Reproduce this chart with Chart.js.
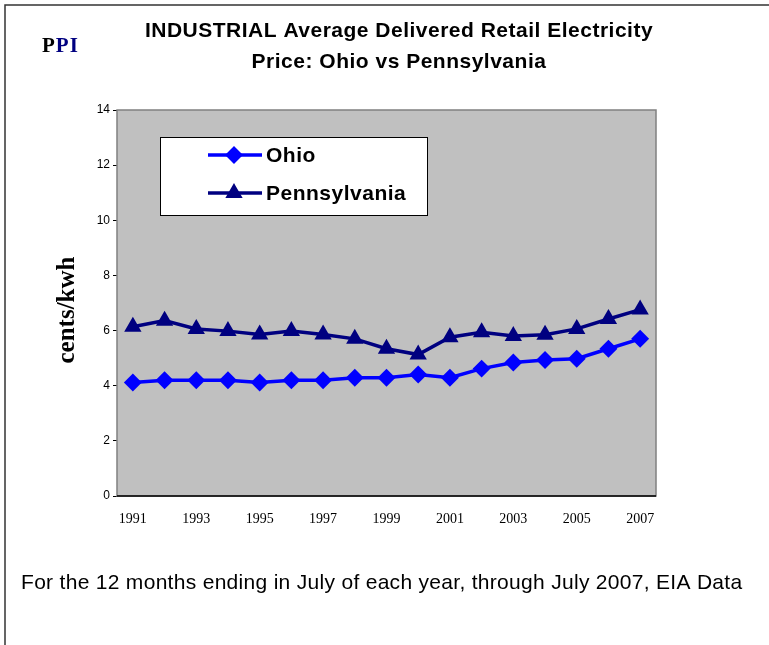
<!DOCTYPE html>
<html>
<head>
<meta charset="utf-8">
<script src="https://cdn.jsdelivr.net/npm/chart.js@4"></script>
<style>
  html, body { margin: 0; padding: 0; background: #fff; }
  #wrap { width: 769px; height: 645px; position: relative; }
</style>
</head>
<body>
<div id="wrap"><canvas id="priceChart" width="769" height="645"></canvas></div>
<script>
// Años y precios (centavos/kWh)
const years = ['1991', '1992', '1993', '1994', '1995', '1996', '1997', '1998', '1999',
               '2000', '2001', '2002', '2003', '2004', '2005', '2006', '2007'];
const ohio = [4.12, 4.2, 4.2, 4.2, 4.12, 4.2, 4.2, 4.29, 4.29, 4.41, 4.29, 4.62, 4.84, 4.93, 4.98, 5.34, 5.7];
const pennsylvania = [6.14, 6.36, 6.06, 5.98, 5.86, 5.98, 5.86, 5.7, 5.34, 5.13, 5.76, 5.94, 5.8, 5.85, 6.06, 6.42, 6.76];
const yTicks = [0, 2, 4, 6, 8, 10, 12, 14];

const titleLines = ['INDUSTRIAL Average Delivered Retail Electricity', 'Price: Ohio vs Pennsylvania'];
const footnote = 'For the 12 months ending in July of each year, through July 2007, EIA Data';

// Fondo gris del área de trazado, marco, títulos, leyenda y nota
const decorations = {
    id: 'decorations',
    beforeDatasetsDraw(chart) {
        const { ctx, chartArea: a } = chart;
        ctx.save();
        ctx.fillStyle = '#c0c0c0';
        ctx.fillRect(a.left, a.top, a.right - a.left, a.bottom - a.top);
        ctx.strokeStyle = '#808080';
        ctx.lineWidth = 1.5;
        ctx.strokeRect(a.left, a.top, a.right - a.left, a.bottom - a.top);
        ctx.strokeStyle = '#000';
        ctx.beginPath();
        ctx.moveTo(a.left, a.bottom);
        ctx.lineTo(a.right, a.bottom);
        ctx.stroke();
        ctx.restore();
    },
    afterDraw(chart) {
        const { ctx } = chart;
        ctx.save();

        // marco exterior
        ctx.strokeStyle = '#333';
        ctx.lineWidth = 1.5;
        ctx.beginPath();
        ctx.moveTo(769, 5);
        ctx.lineTo(5, 5);
        ctx.lineTo(5, 645);
        ctx.stroke();

        // PPI
        ctx.font = 'bold 21px "Liberation Serif", "Times New Roman", serif';
        ctx.letterSpacing = '1px';
        ctx.textBaseline = 'middle';
        ctx.textAlign = 'left';
        ctx.fillStyle = '#000';
        ctx.fillText('P', 42, 47);
        ctx.fillStyle = '#000080';
        ctx.fillText('PI', 42 + ctx.measureText('P').width, 47);

        // título
        ctx.fillStyle = '#000';
        ctx.textAlign = 'center';
        ctx.letterSpacing = '0.5px';
        ctx.font = 'bold 21px "Liberation Sans", Arial, sans-serif';
        ctx.fillText(titleLines[0], 399, 31);
        ctx.fillText(titleLines[1], 399, 62);

        // título eje Y
        ctx.save();
        ctx.translate(68, 310);
        ctx.rotate(-Math.PI / 2);
        ctx.letterSpacing = '0px';
        ctx.font = 'bold 25px "Liberation Serif", "Times New Roman", serif';
        ctx.fillText('cents/kwh', 0, 0);
        ctx.restore();

        // leyenda
        ctx.fillStyle = '#fff';
        ctx.fillRect(160, 137, 267, 78);
        ctx.strokeStyle = '#000';
        ctx.lineWidth = 1;
        ctx.strokeRect(160.5, 137.5, 267, 78);
        chart.data.datasets.forEach((ds, i) => {
            const y = 155 + i * 38;
            ctx.strokeStyle = ds.borderColor;
            ctx.lineWidth = ds.borderWidth;
            ctx.beginPath();
            ctx.moveTo(208, y);
            ctx.lineTo(262, y);
            ctx.stroke();
            Chart.helpers.drawPoint(ctx, {
                pointStyle: ds.pointStyle,
                radius: ds.pointRadius,
                borderWidth: 1
            }, 234, y);
            ctx.fillStyle = ds.pointBackgroundColor;
            ctx.fill();
            ctx.fillStyle = '#000';
            ctx.textAlign = 'left';
            ctx.letterSpacing = '0.5px';
            ctx.font = 'bold 21px "Liberation Sans", Arial, sans-serif';
            ctx.fillText(ds.label, 266, y + 1);
        });

        // nota al pie
        ctx.fillStyle = '#000';
        ctx.textAlign = 'left';
        ctx.letterSpacing = '0.3px';
        ctx.font = '21px "Liberation Sans", Arial, sans-serif';
        ctx.fillText(footnote, 21, 583);

        ctx.restore();
    }
};

const ctx = document.getElementById('priceChart').getContext('2d');

new Chart(ctx, {
    type: 'line',
    data: {
        labels: years,
        datasets: [
            {
                label: 'Ohio',
                data: ohio,
                borderColor: '#0000ff',
                backgroundColor: '#0000ff',
                pointBackgroundColor: '#0000ff',
                pointBorderColor: '#0000ff',
                borderWidth: 3.5,
                pointStyle: 'rectRot',
                pointRadius: 6.5,
                tension: 0
            },
            {
                label: 'Pennsylvania',
                data: pennsylvania,
                borderColor: '#000080',
                backgroundColor: '#000080',
                pointBackgroundColor: '#000080',
                pointBorderColor: '#000080',
                borderWidth: 3.5,
                pointStyle: 'triangle',
                pointRadius: 6.5,
                tension: 0
            }
        ]
    },
    options: {
        responsive: false,
        animation: false,
        layout: {
            padding: { top: 110, right: 113, bottom: 0, left: 0 }
        },
        plugins: {
            legend: { display: false },
            title: { display: false },
            tooltip: { enabled: false }
        },
        scales: {
            x: {
                offset: true,
                afterFit: s => { s.height = 149; },
                grid: { display: false, drawTicks: false },
                border: { display: false },
                ticks: {
                    autoSkip: false,
                    maxRotation: 0,
                    padding: 15,
                    color: '#000',
                    font: { family: '"Liberation Serif", "Times New Roman", serif', size: 14 },
                    callback: function (value, index) {
                        return index % 2 === 0 ? years[index] : '';
                    }
                }
            },
            y: {
                min: 0,
                max: 14,
                afterFit: s => { s.width = 117; },
                afterBuildTicks: s => { s.ticks = yTicks.map(v => ({ value: v })); },
                grid: { drawOnChartArea: false, tickLength: 4, color: '#000' },
                border: { display: false },
                ticks: {
                    padding: 3,
                    color: '#000',
                    font: { family: '"Liberation Sans", Arial, sans-serif', size: 12 }
                }
            }
        }
    },
    plugins: [decorations]
});
</script>
</body>
</html>
